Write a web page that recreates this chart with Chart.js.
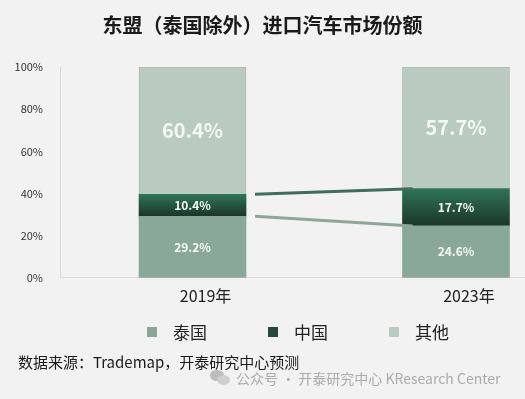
<!DOCTYPE html>
<html>
<head>
<meta charset="utf-8">
<script src="https://cdn.jsdelivr.net/npm/chart.js@4.4.1/dist/chart.umd.min.js"></script>
<style>
  html, body { margin: 0; padding: 0; background: #f2f2f2; }
  #wrap { position: relative; width: 525px; height: 399px; background: #f2f2f2; font-family: "Noto Sans CJK SC", "Noto Sans", sans-serif; }
  #shareChart { position: absolute; left: 0; top: 0; }
  #legend { position: absolute; left: 147px; top: 321px; display: flex; gap: 61px; font-size: 17px; line-height: 22px; color: #222; }
  #legend .item { display: flex; align-items: center; }
  #legend .box { width: 10px; height: 10px; margin-right: 16px; }
  #source { position: absolute; left: 18px; top: 351px; font-size: 15px; line-height: 22px; color: #1a1a1a; white-space: nowrap; }
  #mark { position: absolute; left: 210px; top: 367px; font-size: 14px; line-height: 22px; color: #acacac; white-space: nowrap; display: flex; align-items: center; }
  #mark .icon { position: relative; width: 21px; height: 16px; margin-right: 5px; }
  #mark .icon::before { content: ""; position: absolute; left: 0; top: 0; width: 14px; height: 11px; border-radius: 50%; background: #bdbdbd; }
  #mark .icon::after { content: ""; position: absolute; left: 7px; top: 5px; width: 13px; height: 10px; border-radius: 50%; background: #cfcfcf; }
</style>
</head>
<body>
<div id="wrap">
  <canvas id="shareChart" width="525" height="399"></canvas>
  <div id="legend"></div>
  <div id="source">数据来源：Trademap，开泰研究中心预测</div>
  <div id="mark"><span class="icon"></span>公众号 · 开泰研究中心 KResearch Center</div>
</div>
<script>
const years = ["2019年", "2023年"];
const seriesNames = ["泰国", "中国", "其他"];
const thailand = [29.2, 24.6];
const china = [10.4, 17.7];
const others = [60.4, 57.7];
const yTicks = [0, 20, 40, 60, 80, 100];

const FONT = '"Noto Sans CJK SC", "Noto Sans", sans-serif';
const legendColors = ["#8aa898", "#25493b", "#b9cbc0"];

function chinaFill(c) {
  const chart = c.chart;
  const i = c.dataIndex;
  if (i === undefined || !chart.chartArea || !chart.scales.y) return legendColors[1];
  const y = chart.scales.y;
  const top = y.getPixelForValue(thailand[i] + china[i]);
  const bottom = y.getPixelForValue(thailand[i]);
  const g = chart.ctx.createLinearGradient(0, top, 0, bottom);
  g.addColorStop(0, "#2f7459");
  g.addColorStop(1, "#1c3529");
  return g;
}

// lines between the two bars at the stack boundaries
const connectorPlugin = {
  id: "connectors",
  afterDatasetsDraw(chart) {
    const ctx = chart.ctx;
    const links = [
      { ds: 1, color: "#3e6d5a" },
      { ds: 0, color: "#8ea697" },
    ];
    links.forEach((l) => {
      const bars = chart.getDatasetMeta(l.ds).data;
      const a = bars[0], b = bars[1];
      ctx.save();
      ctx.strokeStyle = l.color;
      ctx.lineWidth = 3;
      ctx.beginPath();
      ctx.moveTo(a.x + a.width / 2 + 9, a.y);
      ctx.lineTo(b.x - b.width / 2 + 10, b.y);
      ctx.stroke();
      ctx.restore();
    });
  },
};

const valueLabelPlugin = {
  id: "valueLabels",
  afterDatasetsDraw(chart) {
    const ctx = chart.ctx;
    const sizes = [12, 12, 20];
    chart.data.datasets.forEach((ds, di) => {
      chart.getDatasetMeta(di).data.forEach((bar, i) => {
        ctx.save();
        ctx.fillStyle = "#f4f8f5";
        ctx.font = `bold ${sizes[di]}px ${FONT}`;
        ctx.textAlign = "center";
        ctx.textBaseline = "middle";
        ctx.fillText(ds.data[i].y.toFixed(1) + "%", bar.x, (bar.y + bar.base) / 2);
        ctx.restore();
      });
    });
  },
};

const toPoints = (arr) => arr.map((v, i) => ({ x: i, y: v }));

const ctx = document.getElementById("shareChart").getContext("2d");
window.shareChart = new Chart(ctx, {
  type: "bar",
  data: {
    datasets: [
      { label: seriesNames[0], data: toPoints(thailand), backgroundColor: legendColors[0], barThickness: 107 },
      { label: seriesNames[1], data: toPoints(china), backgroundColor: chinaFill, barThickness: 107 },
      { label: seriesNames[2], data: toPoints(others), backgroundColor: legendColors[2], borderColor: "#a6baad", borderWidth: 1, borderSkipped: "bottom", barThickness: 107 },
    ],
  },
  options: {
    responsive: false,
    animation: false,
    layout: { padding: { left: 0, right: 0, top: 0, bottom: 84 } },
    plugins: {
      title: {
        display: true,
        text: "东盟（泰国除外）进口汽车市场份额",
        font: { family: FONT, size: 20, weight: "bold" },
        color: "#1a1a1a",
        padding: { top: 13, bottom: 30 },
      },
      legend: { display: false },
      tooltip: { enabled: false },
    },
    scales: {
      x: {
        type: "linear",
        min: -0.503,
        max: 1.262,
        offset: false,
        bounds: "data",
        stacked: true,
        grid: { display: false, drawTicks: false, offset: false },
        border: { color: "#d9d9d9" },
        afterDataLimits: (s) => { s.min = -0.503; s.max = 1.262; },
        afterBuildTicks: (s) => { s.ticks = years.map((_, i) => ({ value: i })); },
        ticks: {
          callback: (v) => years[v],
          labelOffset: 13,
          padding: 9,
          autoSkip: false,
          maxRotation: 0,
          font: { family: FONT, size: 16 },
          color: "#222",
        },
      },
      y: {
        stacked: true,
        min: 0,
        max: 100,
        grid: { display: false, drawTicks: false },
        border: { color: "#d9d9d9" },
        afterBuildTicks: (s) => { s.ticks = yTicks.map((v) => ({ value: v })); },
        afterFit: (s) => { s.width = 60; },
        ticks: {
          callback: (v) => v + "%",
          padding: 17,
          font: { family: FONT, size: 11 },
          color: "#333",
        },
      },
    },
  },
  plugins: [connectorPlugin, valueLabelPlugin],
});

// legend
const legendEl = document.getElementById("legend");
seriesNames.forEach((name, i) => {
  const item = document.createElement("div");
  item.className = "item";
  item.innerHTML = `<span class="box" style="background:${legendColors[i]}"></span><span>${name}</span>`;
  legendEl.appendChild(item);
});
</script>
</body>
</html>
